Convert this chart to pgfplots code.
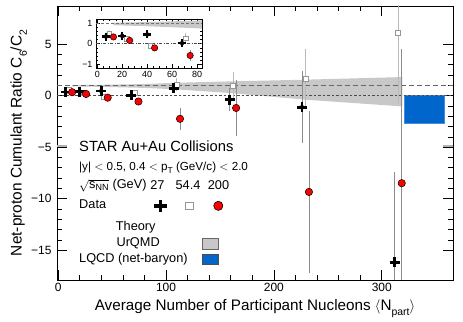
\documentclass[border=0pt]{standalone}
\usepackage{fontspec}
\setmainfont{Liberation Sans}
\usepackage{pgfplots}
\usepackage{pgfplotstable}
\pgfplotsset{compat=1.18}

\definecolor{bandgray}{RGB}{200,200,200}
\definecolor{lqcd}{RGB}{0,102,204}
\definecolor{lqcdedge}{RGB}{70,140,220}
\definecolor{errgray}{RGB}{140,140,140}
\definecolor{sqgray}{RGB}{150,150,150}
\definecolor{sqerr}{RGB}{185,185,185}

% 27 GeV (crosses)
\pgfplotstableread{
x y e
7 0.35 0.08
20 0.38 0.08
40 0.45 0.10
68 0.03 0.15
107 0.72 0.40
159 -0.39 1.10
226 -1.13 3.50
312 -16.2 8.75
}\crossdata
% 54.4 GeV (open squares)
\pgfplotstableread{
x y e
9.5 0.52 0.10
23.5 0.25 0.12
42.5 -0.10 0.15
71 0.27 0.25
110 1.05 0.65
162 0.97 1.30
229.5 1.65 2.90
315 6.1 6.80
}\squaredata
% 200 GeV (red circles)
\pgfplotstableread{
x y e
13 0.33 0.06
26 0.16 0.08
46 -0.20 0.10
74.5 -0.57 0.25
113 -2.25 1.07
165 -1.2 2.75
232.5 -9.35 7.90
318.5 -8.5 13.0
}\circledata

\newcommand{\fs}[1]{\fontsize{#1}{#1}\selectfont}

\begin{document}
\begin{tikzpicture}
\begin{axis}[
  name=main, at={(0,0)}, anchor=south west,
  scale only axis, width=396bp, height=274bp,
  xmin=-1, xmax=366, ymin=-17.9, ymax=8.7,
  xtick={0,100,200,300}, xticklabels={0,100,200,300},
  minor x tick num=4,
  ytick={-15,-10,-5,0,5}, yticklabels={−15,−10,−5,0,5},
  minor y tick num=4,
  tick align=inside, major tick length=10bp, minor tick length=5bp,
  tick style={black, line width=0.6pt},
  axis line style={line width=0.8pt},
  xticklabel style={font=\fs{12}},
  yticklabel style={font=\fs{12}, xshift=-2bp},
  xlabel={Average Number of Participant Nucleons \(\langle\)N\raisebox{-0.3em}{\fs{10.5}part}\(\rangle\)},
  ylabel={Net-proton Cumulant Ratio C\raisebox{-0.35em}{\fs{10.5}6}/C\raisebox{-0.35em}{\fs{10.5}2}},
  xlabel style={font=\fs{15.3}, at={(axis description cs:0.5,-0.112)}, anchor=base},
  ylabel style={font=\fs{15.5}, at={(axis description cs:-0.0896,0.5)}, anchor=base},
]
% UrQMD band
\addplot[fill=bandgray, draw=none] coordinates {(13,1.02)(40,1.05)(80,1.12)(110,1.25)(160,1.38)(230,1.55)(319,1.80)(319,-1.05)(230,-0.40)(160,0.25)(110,0.60)(80,0.75)(40,0.85)(13,0.90)} -- cycle;
% LQCD box
\addplot[fill=lqcd, draw=lqcdedge, line width=0.6pt] coordinates {(320.5,0)(357.5,0)(357.5,-2.65)(320.5,-2.65)} -- cycle;
% reference lines
\addplot[black!60, line width=0.6pt, dash pattern=on 5bp off 3bp] coordinates {(-1,1)(366,1)};
\addplot[black!70, line width=0.5pt, dash pattern=on 2.5bp off 2bp] coordinates {(-1,0)(366,0)};
% gray stubs at -5
\addplot[black!30, line width=1.8pt] coordinates {(-1,-4.9)(8.3,-4.9)};
\addplot[black!30, line width=1.8pt] coordinates {(356.7,-4.9)(366,-4.9)};
% error bars
\addplot[only marks, mark=none, error bars/.cd, y dir=both, y explicit, error mark=none,
  error bar style={sqerr, line width=0.7pt}] table[x=x,y=y,y error=e] {\squaredata};
\addplot[only marks, mark=none, error bars/.cd, y dir=both, y explicit, error mark=none,
  error bar style={errgray, line width=0.7pt}] table[x=x,y=y,y error=e] {\crossdata};
\addplot[only marks, mark=none, error bars/.cd, y dir=both, y explicit, error mark=none,
  error bar style={errgray, line width=0.7pt}] table[x=x,y=y,y error=e] {\circledata};
% markers
\addplot[only marks, mark=square*, mark size=2.6bp, mark options={draw=sqgray, fill=white, line width=0.6pt}] table[x=x,y=y] {\squaredata};
\addplot[only marks, mark=+, mark size=5bp, mark options={black, line width=2.8bp}] table[x=x,y=y] {\crossdata};
\addplot[only marks, mark=*, mark size=3.7bp, mark options={draw=black, fill=red, line width=0.5pt}] table[x=x,y=y] {\circledata};

% legend text
\node[anchor=west, inner sep=0pt, font=\fs{14.8}] at (axis cs:19.4,-4.96) {STAR Au+Au Collisions};
\node[anchor=west, inner sep=0pt, font=\fs{11.7}] at (axis cs:19.4,-7.0) {|y| \(<\) 0.5, 0.4 \(<\) p\raisebox{-0.22em}{\fs{8.5}T} (GeV/c) \(<\) 2.0};
\node[anchor=west, inner sep=0pt, font=\fs{12.8}] at (axis cs:19.4,-8.75) {\(\sqrt{\mbox{s}_{\mbox{\fs{9}NN}}}\) (GeV)};
\node[inner sep=0pt, font=\fs{12.8}] at (axis cs:92.1,-8.68) {27};
\node[inner sep=0pt, font=\fs{12.8}] at (axis cs:120.4,-8.68) {54.4};
\node[inner sep=0pt, font=\fs{12.8}] at (axis cs:148.7,-8.68) {200};
\node[anchor=west, inner sep=0pt, font=\fs{12.8}] at (axis cs:19.4,-10.5) {Data};
\node[anchor=west, inner sep=0pt, font=\fs{12.8}] at (axis cs:53.4,-12.8) {Theory};
\node[anchor=west, inner sep=0pt, font=\fs{12.8}] at (axis cs:54,-14.34) {UrQMD};
\node[anchor=west, inner sep=0pt, font=\fs{12.8}] at (axis cs:19.4,-15.86) {LQCD (net-baryon)};
% legend symbols
\addplot[only marks, mark=+, mark size=6.3bp, mark options={black, line width=3.5bp}] coordinates {(94.7,-10.7)};
\addplot[only marks, mark=square*, mark size=3.7bp, mark options={draw=sqgray, fill=white, line width=0.7pt}] coordinates {(121.6,-10.7)};
\addplot[only marks, mark=*, mark size=4.6bp, mark options={draw=black, fill=red, line width=0.6pt}] coordinates {(148.5,-10.7)};
\addplot[fill=bandgray, draw=black!60, line width=0.5pt] coordinates {(133.4,-13.8)(148.2,-13.8)(148.2,-14.9)(133.4,-14.9)} -- cycle;
\addplot[fill=lqcd, draw=black!70, line width=0.5pt] coordinates {(133.4,-15.4)(148.2,-15.4)(148.2,-16.4)(133.4,-16.4)} -- cycle;
\end{axis}

% inset
\begin{axis}[
  at={(39bp,261bp)}, anchor=north west,
  scale only axis, width=106bp, height=49.5bp,
  xmin=-1, xmax=84, ymin=-1.2, ymax=1.2,
  axis background/.style={fill=white},
  xtick={0,20,40,60,80}, xticklabels={0,20,40,60,80}, minor x tick num=3,
  ytick={-1,0,1}, yticklabels={−1,0,1}, minor y tick num=4,
  tick align=inside, major tick length=4bp, minor tick length=2bp,
  tick style={black, line width=0.5pt},
  axis line style={line width=0.6pt},
  xticklabel style={font=\fs{9}, yshift=1bp},
  yticklabel style={font=\fs{9}},
]
\addplot[fill=bandgray, draw=none] coordinates {(13,1.02)(40,1.05)(80,1.12)(110,1.25)(110,0.60)(80,0.75)(40,0.85)(13,0.90)} -- cycle;
\addplot[black!55, line width=0.5pt, dash pattern=on 3bp off 2bp] coordinates {(-1,1)(84,1)};
\addplot[black!70, line width=0.5pt, dash pattern=on 3bp off 1.5bp on 1bp off 1.5bp] coordinates {(-1,0)(84,0)};
\addplot[only marks, mark=none, error bars/.cd, y dir=both, y explicit, error mark=none,
  error bar style={sqerr, line width=0.6pt}] table[x=x,y=y,y error=e] {\squaredata};
\addplot[only marks, mark=none, error bars/.cd, y dir=both, y explicit, error mark=none,
  error bar style={errgray, line width=0.6pt}] table[x=x,y=y,y error=e] {\crossdata};
\addplot[only marks, mark=none, error bars/.cd, y dir=both, y explicit, error mark=none,
  error bar style={errgray, line width=0.6pt}] table[x=x,y=y,y error=e] {\circledata};
\addplot[only marks, mark=square*, mark size=2.2bp, mark options={draw=sqgray, fill=white, line width=0.5pt}] table[x=x,y=y] {\squaredata};
\addplot[only marks, mark=+, mark size=4bp, mark options={black, line width=2.3bp}] table[x=x,y=y] {\crossdata};
\addplot[only marks, mark=*, mark size=3.2bp, mark options={draw=black, fill=red, line width=0.5pt}] table[x=x,y=y] {\circledata};
\end{axis}

\pgfresetboundingbox
\path[use as bounding box] (-57bp,-42bp) rectangle (406bp,280bp);
\end{tikzpicture}
\end{document}
